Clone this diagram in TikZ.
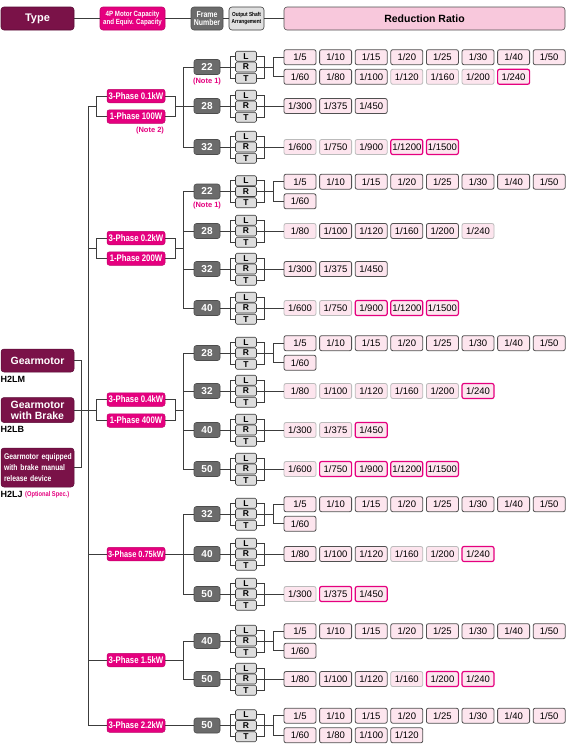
\documentclass[tikz,border=0pt]{standalone}
\usepackage{fontspec}
\setmainfont{Liberation Sans}
\newfontfamily\cond[FakeStretch=0.82]{Liberation Sans}
\usetikzlibrary{calc}
\definecolor{maroon}{HTML}{7A1248}
\definecolor{maroondark}{HTML}{5A0A35}
\definecolor{mag}{HTML}{E5007F}
\definecolor{magdark}{HTML}{C00068}
\definecolor{frmgrey}{HTML}{6B6B6B}
\definecolor{frmdark}{HTML}{4D4D4D}
\definecolor{lrtfill}{HTML}{DDDDDD}
\definecolor{ratfill}{HTML}{FDE5EE}
\definecolor{rbD}{HTML}{505050}
\definecolor{rbG}{HTML}{BBBBBB}
\definecolor{hdrpink}{HTML}{F8C8DC}
\definecolor{lineclr}{HTML}{3C3C3C}
\definecolor{outfill}{HTML}{E0E0E0}
\tikzset{
  conn/.style={draw=lineclr, line width=0.8pt},
  ratbase/.style={fill=ratfill, rounded corners=2pt, minimum width=32pt, minimum height=15pt, inner sep=0pt, line width=0.8pt, font=\fontsize{9.5}{10}\selectfont},
  ratD/.style={ratbase, draw=rbD},
  ratG/.style={ratbase, draw=rbG},
  ratM/.style={ratbase, draw=mag, line width=1.2pt},
  frmbox/.style={fill=frmgrey, draw=frmdark, line width=0.6pt, rounded corners=2.5pt, minimum width=26pt, minimum height=15pt, inner sep=0pt, text=white, font=\bfseries\fontsize{10}{10}\selectfont},
  lrtbox/.style={fill=lrtfill, draw=lineclr, line width=0.6pt, rounded corners=1.5pt, minimum width=21pt, minimum height=10pt, inner sep=0pt, font=\bfseries\fontsize{8.5}{8.5}\selectfont},
  capbox/.style={fill=mag, draw=magdark, line width=0.5pt, rounded corners=2.5pt, minimum width=58pt, minimum height=13.5pt, inner sep=0pt, text=white, font=\cond\bfseries\fontsize{9.5}{9.5}\selectfont},
  typebox/.style={fill=maroon, draw=maroondark, line width=0.5pt, rounded corners=3pt, minimum width=73pt, inner sep=0pt, text=white, font=\bfseries\fontsize{10.5}{12}\selectfont, align=center},
  notelbl/.style={text=mag, inner sep=0pt, font=\bfseries\fontsize{7.5}{8}\selectfont},
  codelbl/.style={inner sep=0pt, anchor=west, font=\bfseries\fontsize{9}{10}\selectfont},
  hdrbox/.style={rounded corners=3pt, minimum height=23pt, inner sep=0pt, align=center, line width=0.6pt},
}
\newcommand{\ratrow}[3]{\foreach \rn/\rs [count=\ri from 0] in {#3}{\node[rat\rs] (#1-\ri) at ({300+35.6*\ri},#2) {1/\rn};}}
\newcommand{\frm}[3]{%
  \node[frmbox] (#1) at (207,#3) {#2};
  \node[lrtbox] (#1L) at (246,{#3-10.8}) {L};
  \node[lrtbox] (#1R) at (246,#3) {R};
  \node[lrtbox] (#1T) at (246,{#3+11.2}) {T};
  \draw[conn] (#1.east) -- (#1R.west);
  \draw[conn] (#1L.west) -- ++(-4.5,0) |- (#1T.west);
  \draw[conn] (#1L.east) -- ++(7.5,0) |- (#1T.east);
  \draw[conn] (#1R.east) -- ++(7.5,0) coordinate (#1o);
}
\newcommand{\sgl}[3]{\ratrow{#1r}{#2}{#3}\draw[conn] (#1o) -- (#1r-0.west);}
\newcommand{\dbl}[4]{%
  \ratrow{#1a}{{#2-9.8}}{#3}\ratrow{#1b}{{#2+9.8}}{#4}%
  \draw[conn] (#1o) -- ++(10,0);
  \draw[conn] (#1a-0.west) -- ++(-10,0) |- (#1b-0.west);}
\begin{document}
\begin{tikzpicture}[x=1pt,y=-1pt]
\useasboundingbox (0,0) rectangle (572,755);
\fill[white] (0,0) rectangle (572,755);
% header
\node[hdrbox, fill=maroon, draw=maroondark, minimum width=73pt, text=white, font=\bfseries\fontsize{11}{11}\selectfont] (hType) at (37.5,18.5) {Type};
\node[hdrbox, fill=mag, draw=magdark, minimum width=65pt, text=white, font=\cond\bfseries\fontsize{7.5}{8}\selectfont] (hCap) at (132.5,18.5) {4P Motor Capacity\\and Equiv. Capacity};
\node[hdrbox, fill=frmgrey, draw=frmdark, minimum width=32pt, text=white, font=\cond\bfseries\fontsize{8.5}{8.5}\selectfont] (hFrm) at (207,18.5) {Frame\\Number};
\node[hdrbox, fill=outfill, draw=lineclr, minimum width=35pt, font=\cond\bfseries\fontsize{5.8}{6.5}\selectfont] (hOut) at (246.5,18.5) {Output Shaft\\Arrangement};
\node[hdrbox, fill=hdrpink, draw=rbD, minimum width=281pt, font=\bfseries\fontsize{10.5}{11}\selectfont] (hRed) at (424.5,18.5) {Reduction Ratio};
\draw[conn] (hType.east) -- (hCap.west);
\draw[conn] (hCap.east) -- (hFrm.west);
\draw[conn] (hFrm.east) -- (hOut.west);
\draw[conn] (hOut.east) -- (hRed.west);
% type column
\node[typebox, minimum height=23pt] (t1) at (37.5,360.5) {Gearmotor};
\node[typebox, minimum height=25pt, font=\bfseries\fontsize{10.5}{11}\selectfont] (t2) at (37.5,410) {Gearmotor\\with Brake};
\node[typebox, minimum height=39pt, text width=71pt, inner xsep=1pt, align=left, font=\cond\bfseries\fontsize{8.3}{11}\selectfont] (t3) at (37.5,467.5) {\hspace*{2pt}Gearmotor equipped\\\hspace*{2pt}with brake manual\\\hspace*{2pt}release device};
\node[codelbl] (c1) at (0.5,379) {H2LM};
\node[codelbl] (c2) at (0.5,429) {H2LB};
\node[codelbl] (c3) at (0.5,494) {H2LJ};
\node[notelbl, anchor=west, font=\cond\bfseries\fontsize{7}{7}\selectfont] (c3n) at (25,494.5) {(Optional Spec.)};
% ---------- group A : 0.1kW
\node[capbox] (cA1) at (136,96) {3-Phase 0.1kW};
\node[capbox] (cA2) at (136,116.5) {1-Phase 100W};
\node[notelbl] (nA2) at (150,131) {(Note 2)};
\frm{fA22}{22}{67}\frm{fA28}{28}{106}\frm{fA32}{32}{147}
\node[notelbl] (nA1) at (207,81.5) {(Note 1)};
\dbl{fA22}{67}{5/D,10/D,15/D,20/D,25/D,30/D,40/D,50/D}{60/D,80/D,100/D,120/G,160/G,200/G,240/M}
\sgl{fA28}{106}{300/D,375/D,450/D}
\sgl{fA32}{147}{600/G,750/G,900/G,1200/M,1500/M}
\draw[conn] (fA22.west) -- ++(-10,0) |- (fA32.west);
\draw[conn] (fA28.west) -- ++(-10,0);
\draw[conn] (cA1.west) -- ++(-10,0) |- (cA2.west);
\draw[conn] (cA1.east) -- ++(10,0) |- (cA2.east);
\draw[conn] ($(cA1.east)!.5!(cA2.east)+(10,0)$) -- ++(9,0);
\coordinate (mA) at ($(cA1.west)!.5!(cA2.west)+(-18,0)$);
\draw[conn] (mA) -- ++(8,0);
% ---------- group B : 0.2kW
\node[capbox] (cB1) at (136,238) {3-Phase 0.2kW};
\node[capbox] (cB2) at (136,258.5) {1-Phase 200W};
\frm{fB22}{22}{191.5}\frm{fB28}{28}{231}\frm{fB32}{32}{269}\frm{fB40}{40}{308}
\node[notelbl] (nB1) at (207,206) {(Note 1)};
\dbl{fB22}{191.5}{5/D,10/D,15/D,20/D,25/D,30/D,40/D,50/D}{60/D}
\sgl{fB28}{231}{80/G,100/D,120/D,160/D,200/D,240/G}
\sgl{fB32}{269}{300/D,375/D,450/D}
\sgl{fB40}{308}{600/G,750/G,900/M,1200/M,1500/M}
\draw[conn] (fB22.west) -- ++(-10,0) |- (fB40.west);
\draw[conn] (fB28.west) -- ++(-10,0);
\draw[conn] (fB32.west) -- ++(-10,0);
\draw[conn] (cB1.west) -- ++(-10,0) |- (cB2.west);
\draw[conn] (cB1.east) -- ++(10,0) |- (cB2.east);
\draw[conn] ($(cB1.east)!.5!(cB2.east)+(10,0)$) -- ++(9,0);
\coordinate (mB) at ($(cB1.west)!.5!(cB2.west)+(-18,0)$);
\draw[conn] (mB) -- ++(8,0);
% ---------- group C : 0.4kW
\node[capbox] (cC1) at (136,399.5) {3-Phase 0.4kW};
\node[capbox] (cC2) at (136,420.5) {1-Phase 400W};
\frm{fC28}{28}{353}\frm{fC32}{32}{391}\frm{fC40}{40}{430}\frm{fC50}{50}{469}
\dbl{fC28}{353}{5/D,10/D,15/D,20/D,25/D,30/D,40/D,50/D}{60/D}
\sgl{fC32}{391}{80/G,100/G,120/G,160/G,200/G,240/M}
\sgl{fC40}{430}{300/G,375/G,450/M}
\sgl{fC50}{469}{600/G,750/M,900/M,1200/M,1500/M}
\draw[conn] (fC28.west) -- ++(-10,0) |- (fC50.west);
\draw[conn] (fC32.west) -- ++(-10,0);
\draw[conn] (fC40.west) -- ++(-10,0);
\draw[conn] (cC1.west) -- ++(-10,0) |- (cC2.west);
\draw[conn] (cC1.east) -- ++(10,0) |- (cC2.east);
\draw[conn] ($(cC1.east)!.5!(cC2.east)+(10,0)$) -- ++(9,0);
\coordinate (cCl) at ($(cC1.west)!.5!(cC2.west)+(-10,0)$);
\coordinate (mC) at ($(cC1.west)!.5!(cC2.west)+(-18,0)$);
% ---------- group D : 0.75kW
\node[capbox, font=\cond\bfseries\fontsize{9}{9}\selectfont] (cD) at (136,554) {3-Phase 0.75kW};
\frm{fD32}{32}{514}\frm{fD40}{40}{554}\frm{fD50}{50}{594}
\dbl{fD32}{514}{5/D,10/D,15/D,20/D,25/D,30/D,40/D,50/D}{60/D}
\sgl{fD40}{554}{80/D,100/D,120/D,160/G,200/G,240/M}
\sgl{fD50}{594}{300/G,375/M,450/M}
\draw[conn] (fD32.west) -- ++(-10,0) |- (fD50.west);
\draw[conn] (cD.east) -- (fD40.west);
\draw[conn] (cD.west) -- ++(-18,0);
% ---------- group E : 1.5kW
\node[capbox] (cE) at (136,660) {3-Phase 1.5kW};
\frm{fE40}{40}{641}\frm{fE50}{50}{679}
\dbl{fE40}{641}{5/D,10/D,15/D,20/D,25/D,30/D,40/D,50/D}{60/D}
\sgl{fE50}{679}{80/D,100/D,120/D,160/G,200/M,240/M}
\draw[conn] (fE40.west) -- ++(-10,0) |- (fE50.west);
\draw[conn] (cE.east) -- ++(19,0);
\draw[conn] (cE.west) -- ++(-18,0);
% ---------- group F : 2.2kW
\node[capbox] (cF) at (136,725.5) {3-Phase 2.2kW};
\frm{fF50}{50}{725.5}
\dbl{fF50}{725.5}{5/D,10/D,15/D,20/D,25/D,30/D,40/D,50/D}{60/D,80/D,100/D,120/D}
\draw[conn] (cF.east) -- (fF50.west);
\coordinate (mF) at ($(cF.west)+(-18,0)$);
\draw[conn] (mF) -- (cF.west);
% main trunk and type connections
\draw[conn] (mA) -- (mF);
\draw[conn] (t1.east) -- ++(7,0) |- (t3.east);
\draw[conn] (t2.east) -- (cCl);
\end{tikzpicture}
\end{document}
